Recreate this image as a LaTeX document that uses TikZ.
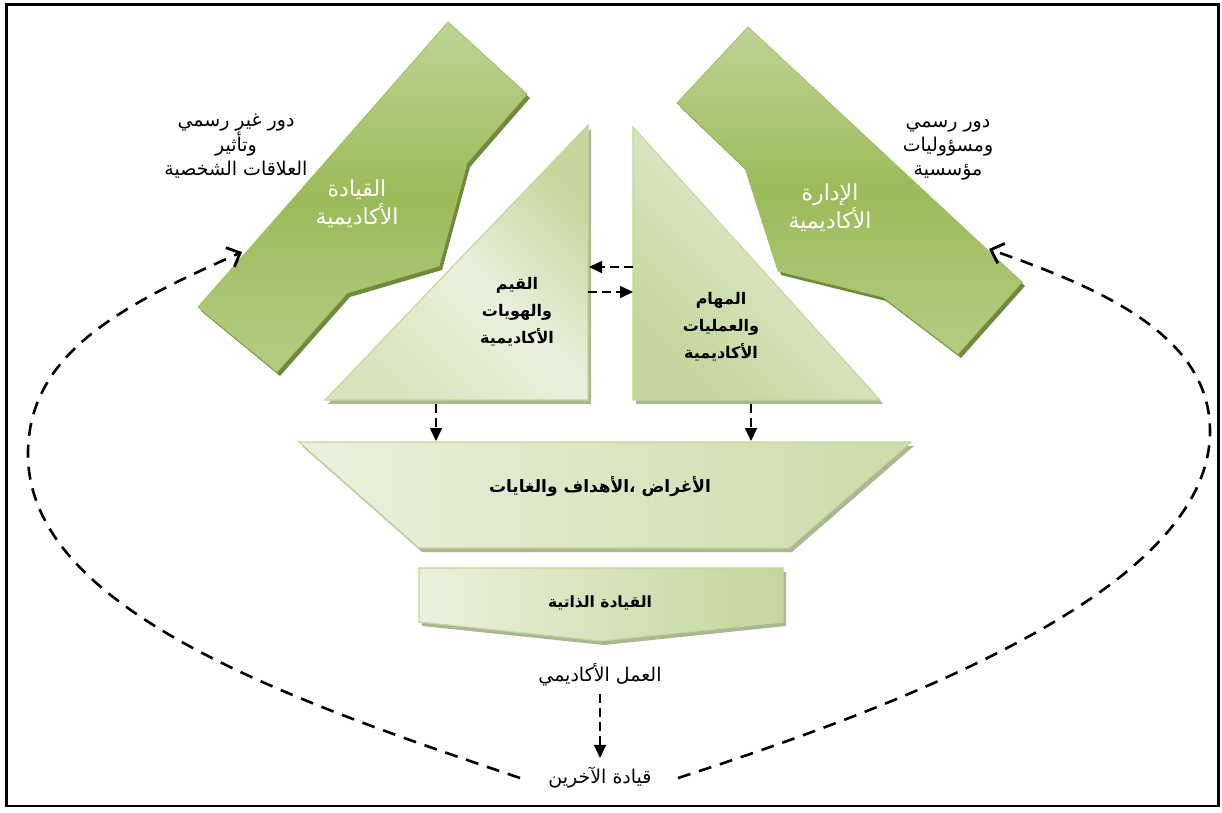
\documentclass[tikz,border=0pt]{standalone}
\usepackage{fontspec}
\usetikzlibrary{arrows.meta}
\TeXXeTstate=1
\newfontfamily\arabicfont[Script=Arabic]{DejaVu Sans}
\newcommand\rtltext[1]{\beginR #1\endR}

\definecolor{gLight}{HTML}{EBF1DE}
\definecolor{gPale}{HTML}{D7E4BD}
\definecolor{gSoft}{HTML}{C3D69B}
\definecolor{gMid}{HTML}{9BBB59}
\definecolor{gTop}{HTML}{BDD496}
\definecolor{gLow}{HTML}{B4CD85}
\definecolor{gEdge}{HTML}{A3C164}
\definecolor{gDark}{HTML}{6E8B3D}
\definecolor{gShade}{HTML}{AAB792}

\tikzset{
  pLead/.style={insert path={(448,22) -- (527,94) -- (467,163) -- (439,266) -- (347,293) -- (277,372) -- (198,307) -- cycle}},
  pAdmin/.style={insert path={(748,27) -- (1022,282) -- (958,354) -- (883,297) -- (778,271) -- (745,168) -- (677,103) -- cycle}},
  pValues/.style={insert path={(588,125) -- (588,400) -- (325,400) -- cycle}},
  pTasks/.style={insert path={(633,127) -- (880,400) -- (633,400) -- cycle}},
  pGoals/.style={insert path={(299,442) -- (911,442) -- (789,548) -- (419,548) -- cycle}},
  pSelf/.style={insert path={(419,568) -- (783,568) -- (783,622) -- (601,641) -- (419,622) -- cycle}},
  bandfill/.style={draw=gEdge, line width=0.8pt, top color=gTop, bottom color=gLow, middle color=gMid},
  paleedge/.style={draw=gSoft, line width=1.1pt},
  whitelbl/.style={font=\arabicfont\fontsize{22}{28}\selectfont, text=white, align=center},
  outlbl/.style={font=\arabicfont\fontsize{19}{24}\selectfont, align=center},
  boldlbl/.style={font=\arabicfont\bfseries\fontsize{16}{27}\selectfont, align=center},
  smallarrow/.style={line width=1.6pt, dash pattern=on 9pt off 5pt, -{Triangle[length=13pt,width=12pt]}},
  cycledash/.style={line width=2.6pt, dash pattern=on 13pt off 9pt, -{Straight Barb[length=11pt,width=21pt,line width=2.8pt]}}
}

\begin{document}
\begin{tikzpicture}[x=1pt,y=-1pt]
\useasboundingbox (0,0) rectangle (1222,812);
\draw[line width=2.2pt] (6.5,4.5) rectangle (1218.5,806);

% drop shadows under every shape
\begin{scope}[shift={(3,4)}]
  \fill[gDark, pLead];
  \fill[gDark, pAdmin];
  \fill[gShade, pValues];
  \fill[gShade, pTasks];
  \fill[gShade, pGoals];
  \fill[gShade, pSelf];
\end{scope}

% the two green bands
\path[bandfill, pLead];
\path[bandfill, pAdmin];

% the two triangles
\path[paleedge, top color=gSoft, bottom color=gPale, middle color=gLight, shading angle=-45, pValues];
\path[paleedge, top color=gLight, bottom color=gSoft, shading angle=-45, pTasks];

% goals trapezoid and self-leadership box
\path[paleedge, left color=gLight, right color=gSoft!80!gLight, pGoals];
\path[paleedge, left color=gLight, right color=gSoft, pSelf];

% labels
\node[whitelbl] (lead) at (357,204) {\rtltext{القيادة}\\\rtltext{الأكاديمية}};
\node[whitelbl] (admin) at (830,208) {\rtltext{الإدارة}\\\rtltext{الأكاديمية}};
\node[outlbl] (informal) at (236,146) {\rtltext{دور غير رسمي}\\\rtltext{وتأثير}\\\rtltext{العلاقات الشخصية}};
\node[outlbl] (formal) at (948,150) {\rtltext{دور رسمي}\\\rtltext{ومسؤوليات}\\\rtltext{مؤسسية}};
\node[boldlbl] (values) at (517,312) {\rtltext{القيم}\\\rtltext{والهويات}\\\rtltext{الأكاديمية}};
\node[boldlbl] (tasks) at (721,327) {\rtltext{المهام}\\\rtltext{والعمليات}\\\rtltext{الأكاديمية}};
\node[boldlbl, font=\arabicfont\bfseries\fontsize{17}{20}\selectfont] (goals) at (600,487) {\rtltext{الأغراض ،الأهداف والغايات}};
\node[boldlbl, font=\arabicfont\bfseries\fontsize{15.5}{20}\selectfont] (self) at (600,603) {\rtltext{القيادة الذاتية}};
\node[outlbl] (work) at (600,675) {\rtltext{العمل الأكاديمي}};
\node[outlbl] (others) at (600,778) {\rtltext{قيادة الآخرين}};

% connector end points on the shapes
\coordinate (valuesR) at (589,267);
\coordinate (tasksL) at (633,267);
\coordinate (valuesR2) at (588,292);
\coordinate (tasksL2) at (633,292);
\coordinate (valuesFoot) at (436,404);
\coordinate (goalsL) at (436,441);
\coordinate (tasksFoot) at (751,404);
\coordinate (goalsR) at (751,441);
\coordinate (leadIn) at (242,252);
\coordinate (adminIn) at (989,249);

\draw[smallarrow] (tasksL) -- (valuesR);
\draw[smallarrow] (valuesR2) -- (tasksL2);
\draw[smallarrow] (valuesFoot) -- (goalsL);
\draw[smallarrow] (tasksFoot) -- (goalsR);
\draw[smallarrow, shorten <=4pt, shorten >=6pt] (work) -- (others);

% feedback loops from leading others back to both roles
\draw[cycledash] ([xshift=-80pt]others.center) .. controls (290,700) and (28,610) .. (28,454)
   .. controls (28,354) and (120,306) .. (leadIn);
\draw[cycledash] ([xshift=78pt]others.center) .. controls (938,694) and (1210,581) .. (1210,431)
   .. controls (1210,331) and (1090,285) .. (adminIn);
\end{tikzpicture}
\end{document}
